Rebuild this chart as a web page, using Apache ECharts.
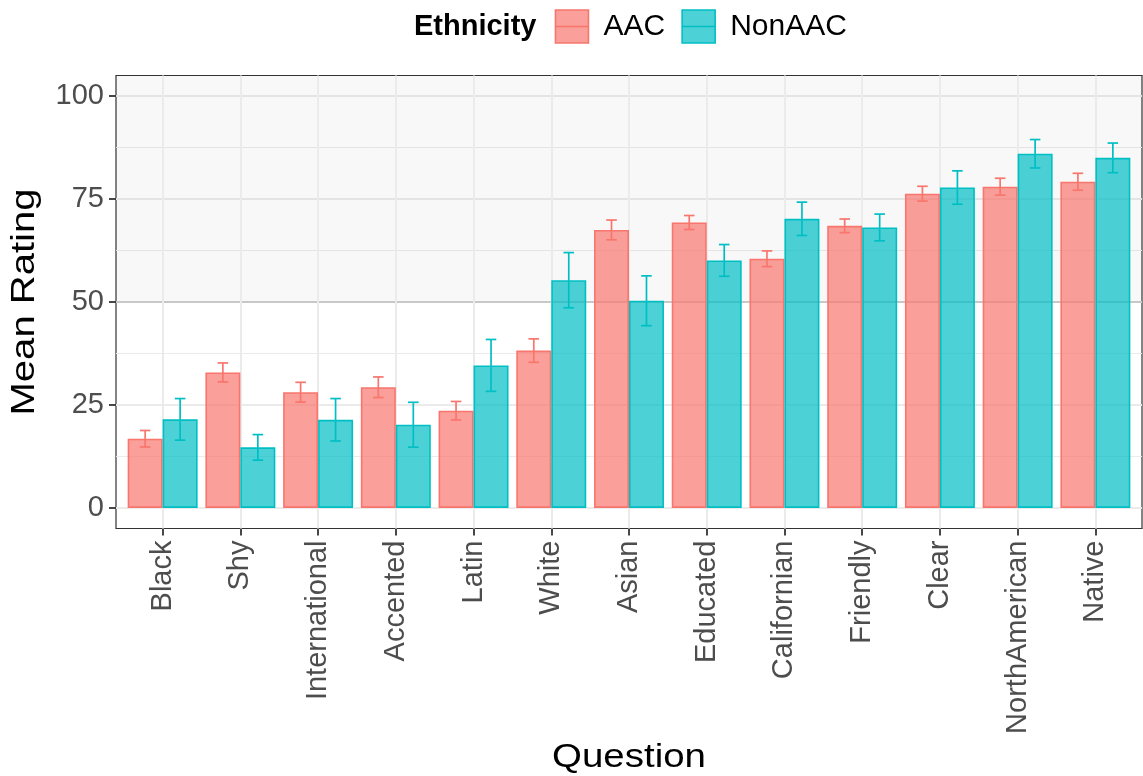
<!DOCTYPE html>
<html>
<head>
<meta charset="utf-8">
<title>Mean Rating by Question and Ethnicity</title>
<script src="https://cdn.jsdelivr.net/npm/echarts@6/dist/echarts.min.js"></script>
<style>
  html, body { margin: 0; padding: 0; background: #ffffff; }
  #chart { width: 1143px; height: 776px; }
</style>
</head>
<body>
<div id="chart"></div>
<script>
// ---- data ----
const questions = ['Black', 'Shy', 'International', 'Accented', 'Latin', 'White', 'Asian',
                   'Educated', 'Californian', 'Friendly', 'Clear', 'NorthAmerican', 'Native'];
const aacMean = [16.8, 32.9, 28.1, 29.3, 23.6, 38.2, 67.5, 69.3, 60.5, 68.5, 76.3, 78.0, 79.2];
const aacSE   = [2.0, 2.3, 2.4, 2.5, 2.25, 2.85, 2.4, 1.7, 1.9, 1.65, 1.8, 2.05, 2.05];
const nonMean = [21.5, 14.7, 21.4, 20.2, 34.6, 55.3, 50.3, 60.1, 70.2, 68.1, 77.8, 86.0, 85.0];
const nonSE   = [5.05, 3.1, 5.15, 5.45, 6.3, 6.7, 6.05, 3.85, 4.05, 3.25, 4.05, 3.45, 3.6];
const groups  = ['AAC', 'NonAAC'];
const legendTitle = 'Ethnicity';
const xTitle = 'Question';
const yTitle = 'Mean Rating';
const yBreaks = { min: 0, max: 100, step: 25 };
const highlightFrom = 50;

// ---- layout & style ----
const FONT = '"Liberation Sans", Arial, Helvetica, sans-serif';
const COLORS = { AAC: '#F8766D', NonAAC: '#00BFC4' };
const FILLS  = { AAC: 'rgba(248,118,109,0.7)', NonAAC: 'rgba(0,191,196,0.7)' };
const PANEL = { left: 116, top: 75.5, width: 1026, height: 453 };
const Y_LO = -5, Y_HI = 105;           // panel value range (5% padding)
const X_PAD = 0.6;                     // discrete axis padding, in category units
const GRID_COL = '#EBEBEB';
const TEXT_COL = '#4D4D4D';
const FRAME_COL = '#333333';
const TITLE_FONT = '32.5px ' + FONT;

const n = questions.length;
const unitX = PANEL.width / (n - 1 + 2 * X_PAD);
const pxPerY = PANEL.height / (Y_HI - Y_LO);

// grid 0: y axis (breaks + gridlines), grid 1: panel frame + shading, grid 2: bars
const gridAxis = {
  left: PANEL.left, width: PANEL.width,
  top: PANEL.top + (Y_HI - yBreaks.max) * pxPerY,
  height: (yBreaks.max - yBreaks.min) * pxPerY,
  outerBoundsMode: 'none'
};
const gridPanel = {
  left: PANEL.left, width: PANEL.width, top: PANEL.top, height: PANEL.height,
  show: true, borderColor: FRAME_COL, borderWidth: 1.2, backgroundColor: 'transparent',
  outerBoundsMode: 'none'
};
const gridData = {
  left: PANEL.left + (X_PAD - 0.5) * unitX, width: n * unitX,
  top: PANEL.top, height: PANEL.height,
  outerBoundsMode: 'none'
};

const measureCtx = document.createElement('canvas').getContext('2d');
function textWidth(str, font) { measureCtx.font = font; return measureCtx.measureText(str).width; }

// ---- legend (title + keys) ----
function buildLegend() {
  const KEY = 33, TOP = 10, MID = TOP + KEY / 2;
  const titleFont = 'bold 29px ' + FONT;
  const labelFont = '30px ' + FONT;
  const els = [];
  let x = 414;
  els.push({ type: 'text', x: x, y: MID, silent: true,
    style: { text: legendTitle, font: titleFont, fill: '#000000', verticalAlign: 'middle', align: 'left' } });
  x += textWidth(legendTitle, titleFont) + 19;
  groups.forEach(g => {
    els.push({ type: 'rect', silent: true,
      shape: { x: x, y: TOP, width: KEY, height: KEY },
      style: { fill: FILLS[g], stroke: COLORS[g], lineWidth: 1.6 } });
    els.push({ type: 'line', silent: true,
      shape: { x1: x, y1: MID, x2: x + KEY, y2: MID },
      style: { stroke: COLORS[g], lineWidth: 1.3 } });
    x += KEY + 15;
    els.push({ type: 'text', x: x, y: MID, silent: true,
      style: { text: g, font: labelFont, fill: '#000000', verticalAlign: 'middle', align: 'left' } });
    x += textWidth(g, labelFont) + 17;
  });
  return els;
}

// ---- axis titles (wide-set type) ----
function buildTitles() {
  const xStretch = 154 / textWidth(xTitle, TITLE_FONT);
  const yStretch = 227 / textWidth(yTitle, TITLE_FONT);
  return [
    { type: 'text', silent: true,
      x: PANEL.left + PANEL.width / 2, y: 758,
      scaleX: xStretch,
      style: { text: xTitle, font: TITLE_FONT, fill: '#000000', align: 'center', verticalAlign: 'middle' } },
    { type: 'text', silent: true,
      x: 25.5, y: PANEL.top + PANEL.height / 2,
      rotation: Math.PI / 2, scaleX: yStretch,
      style: { text: yTitle, font: TITLE_FONT, fill: '#000000', align: 'center', verticalAlign: 'middle' } }
  ];
}

function errorBars(name, means, ses, side) {
  const color = COLORS[name];
  return {
    type: 'custom',
    name: name,
    xAxisIndex: 2, yAxisIndex: 2,
    z: 3,
    silent: true,
    data: means.map((m, i) => [i, m - ses[i], m + ses[i]]),
    encode: { x: 0, y: [1, 2] },
    renderItem: function (params, api) {
      const idx = api.value(0);
      const band = api.size([1, 0])[0];
      const cx = api.coord([idx, 0])[0] + side * band * 0.225;
      const lo = api.coord([idx, api.value(1)])[1];
      const hi = api.coord([idx, api.value(2)])[1];
      const cap = band * 0.068;
      const st = { stroke: color, lineWidth: 1.7, fill: null };
      return {
        type: 'group',
        children: [
          { type: 'line', shape: { x1: cx, y1: lo, x2: cx, y2: hi }, style: st },
          { type: 'line', shape: { x1: cx - cap, y1: hi, x2: cx + cap, y2: hi }, style: st },
          { type: 'line', shape: { x1: cx - cap, y1: lo, x2: cx + cap, y2: lo }, style: st }
        ]
      };
    }
  };
}

function bars(name, values) {
  return {
    type: 'bar',
    name: name,
    xAxisIndex: 2, yAxisIndex: 2,
    data: values,
    barGap: '0%',
    barCategoryGap: '10%',
    itemStyle: { color: FILLS[name], borderColor: COLORS[name], borderWidth: 1.6 },
    emphasis: { disabled: true }
  };
}

const chart = echarts.init(document.getElementById('chart'), null, { renderer: 'canvas' });

const option = {
  animation: false,
  backgroundColor: '#ffffff',
  textStyle: { fontFamily: FONT },
  grid: [gridAxis, gridPanel, gridData],
  graphic: buildLegend().concat(buildTitles()),
  xAxis: [
    { gridIndex: 0, type: 'value', show: false, min: 0, max: 1 },
    { gridIndex: 1, type: 'value', show: false, min: 0, max: 1 },
    {
      gridIndex: 2, type: 'category', data: questions, boundaryGap: true,
      position: 'bottom',
      axisLine: { show: true, onZero: false, lineStyle: { color: FRAME_COL, width: 1.2 } },
      axisTick: { show: true, inside: false, alignWithLabel: true, length: 7,
                  lineStyle: { color: FRAME_COL, width: 1.8 } },
      axisLabel: { interval: 0, rotate: 90, margin: 12, fontSize: 29, color: TEXT_COL, fontFamily: FONT },
      splitLine: { show: false }
    }
  ],
  yAxis: [
    {
      gridIndex: 0, type: 'value',
      min: yBreaks.min, max: yBreaks.max, interval: yBreaks.step,
      axisLine: { show: false },
      axisTick: { show: true, length: 7, lineStyle: { color: FRAME_COL, width: 1.8 } },
      axisLabel: { margin: 12, fontSize: 29, color: TEXT_COL, fontFamily: FONT },
      splitLine: { show: true, lineStyle: { color: GRID_COL, width: 2 } },
      minorTick: { show: false, splitNumber: 2 },
      minorSplitLine: { show: true, lineStyle: { color: GRID_COL, width: 1 } }
    },
    { gridIndex: 1, type: 'value', show: false, min: Y_LO, max: Y_HI, splitLine: { show: false } },
    { gridIndex: 2, type: 'value', show: false, min: Y_LO, max: Y_HI, splitLine: { show: false } }
  ],
  series: [
    {
      // shaded upper band and reference line at 50
      type: 'line', name: 'band', xAxisIndex: 1, yAxisIndex: 1,
      data: [], silent: true, symbol: 'none',
      markArea: {
        silent: true, z: 1,
        itemStyle: { color: 'rgba(0,0,0,0.028)' },
        emphasis: { disabled: true },
        label: { show: false },
        data: [[{ yAxis: highlightFrom }, { yAxis: Y_HI }]]
      },
      markLine: {
        silent: true, z: 1, animation: false,
        symbol: ['none', 'none'],
        label: { show: false },
        emphasis: { disabled: true },
        lineStyle: { color: '#C8C8C8', width: 2, type: 'solid' },
        data: [{ yAxis: highlightFrom }]
      }
    },
    {
      // vertical gridlines at each question (band centres)
      type: 'line', name: 'xgrid', xAxisIndex: 2, yAxisIndex: 2,
      data: [], silent: true, symbol: 'none',
      markLine: {
        silent: true, z: 1, animation: false,
        symbol: ['none', 'none'],
        label: { show: false },
        emphasis: { disabled: true },
        lineStyle: { color: GRID_COL, width: 2, type: 'solid' },
        data: questions.map(q => ({ xAxis: q }))
      }
    },
    bars('AAC', aacMean),
    bars('NonAAC', nonMean),
    errorBars('AAC', aacMean, aacSE, -1),
    errorBars('NonAAC', nonMean, nonSE, 1)
  ]
};

chart.setOption(option);
</script>
</body>
</html>
